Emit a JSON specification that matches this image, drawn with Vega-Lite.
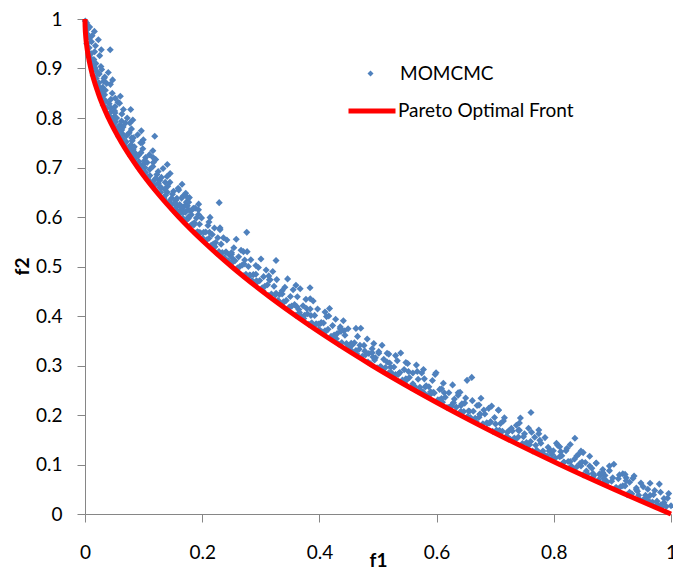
{
  "$schema": "https://vega.github.io/schema/vega-lite/v6.json",
  "width": 586,
  "height": 495,
  "autosize": {"type": "none"},
  "padding": {"left": 85, "top": 19, "right": 2, "bottom": 57},
  "title": {"text": "(a)", "font": "Lato", "fontSize": 20, "fontWeight": "normal", "color": "#000000", "offset": 17, "baseline": "alphabetic", "dx": -30},
  "datasets": {
    "momcmc": [
      {"f1":0.0005,"f2":0.996},{"f1":0.003,"f2":0.992},{"f1":0.0025,"f2":0.988},{"f1":0.008,"f2":0.984},{"f1":0.005,"f2":0.98},{"f1":0.016,"f2":0.975},{"f1":0.0035,"f2":0.97},{"f1":0.012,"f2":0.966},{"f1":0.0074,"f2":0.962},{"f1":0.0228,"f2":0.958},{"f1":0.0111,"f2":0.954},{"f1":0.0031,"f2":0.95},{"f1":0.0179,"f2":0.946},{"f1":0.007,"f2":0.942},{"f1":0.0278,"f2":0.938},{"f1":0.0164,"f2":0.934},{"f1":0.0103,"f2":0.93},{"f1":0.025,"f2":0.926},{"f1":0.0085,"f2":0.922},{"f1":0.0151,"f2":0.918},{"f1":0.0089,"f2":0.914},{"f1":0.0186,"f2":0.91},{"f1":0.0131,"f2":0.907},{"f1":0.0272,"f2":0.904},{"f1":0.0173,"f2":0.901},
      {"f1":0.0284,"f2":0.898},{"f1":0.019,"f2":0.895},{"f1":0.0397,"f2":0.892},{"f1":0.0243,"f2":0.889},{"f1":0.0138,"f2":0.886},{"f1":0.0337,"f2":0.883},{"f1":0.0192,"f2":0.88},{"f1":0.0471,"f2":0.877},{"f1":0.0319,"f2":0.874},{"f1":0.0238,"f2":0.871},{"f1":0.0434,"f2":0.868},{"f1":0.0214,"f2":0.865},{"f1":0.0302,"f2":0.862},{"f1":0.0219,"f2":0.859},{"f1":0.0347,"f2":0.856},{"f1":0.0276,"f2":0.853},{"f1":0.0465,"f2":0.85},{"f1":0.0334,"f2":0.847},{"f1":0.0603,"f2":0.844},{"f1":0.0293,"f2":0.841},{"f1":0.0442,"f2":0.838},{"f1":0.0352,"f2":0.835},{"f1":0.0562,"f2":0.832},{"f1":0.0412,"f2":0.829},{"f1":0.0311,"f2":0.826},{"f1":0.0513,"f2":0.823},{"f1":0.0372,"f2":0.82},{"f1":0.0655,"f2":0.817},{"f1":0.0506,"f2":0.814},{"f1":0.0429,"f2":0.811},{"f1":0.0629,"f2":0.808},{"f1":0.0412,"f2":0.805},{"f1":0.05,"f2":0.803},{"f1":0.0416,"f2":0.801},{"f1":0.054,"f2":0.8},
      {"f1":0.0468,"f2":0.798},{"f1":0.0816,"f2":0.796},{"f1":0.0624,"f2":0.794},{"f1":0.0523,"f2":0.792},{"f1":0.0766,"f2":0.79},{"f1":0.0489,"f2":0.788},{"f1":0.0598,"f2":0.786},{"f1":0.0492,"f2":0.784},{"f1":0.065,"f2":0.782},{"f1":0.0559,"f2":0.78},{"f1":0.0793,"f2":0.778},{"f1":0.0627,"f2":0.776},{"f1":0.0961,"f2":0.774},{"f1":0.057,"f2":0.772},{"f1":0.0754,"f2":0.77},{"f1":0.0638,"f2":0.768},{"f1":0.0898,"f2":0.766},{"f1":0.0707,"f2":0.764},{"f1":0.0576,"f2":0.762},{"f1":0.0826,"f2":0.76},{"f1":0.0646,"f2":0.758},{"f1":0.0995,"f2":0.756},{"f1":0.0805,"f2":0.754},{"f1":0.0705,"f2":0.752},{"f1":0.095,"f2":0.75},{"f1":0.0675,"f2":0.748},{"f1":0.0785,"f2":0.746},{"f1":0.068,"f2":0.744},{"f1":0.0841,"f2":0.742},{"f1":0.0751,"f2":0.74},{"f1":0.0986,"f2":0.738},{"f1":0.0822,"f2":0.736},{"f1":0.1158,"f2":0.734},{"f1":0.0768,"f2":0.732},{"f1":0.0954,"f2":0.73},{"f1":0.084,"f2":0.728},{"f1":0.1101,"f2":0.726},{"f1":0.0912,"f2":0.724},{"f1":0.0783,"f2":0.722},{"f1":0.1034,"f2":0.72},{"f1":0.0855,"f2":0.718},{"f1":0.1207,"f2":0.716},{"f1":0.1018,"f2":0.714},{"f1":0.0919,"f2":0.712},{"f1":0.1166,"f2":0.71},
      {"f1":0.1003,"f2":0.708},{"f1":0.1404,"f2":0.706},{"f1":0.0936,"f2":0.704},{"f1":0.1158,"f2":0.702},{"f1":0.102,"f2":0.7},{"f1":0.1332,"f2":0.698},{"f1":0.1104,"f2":0.696},{"f1":0.0948,"f2":0.694},{"f1":0.1249,"f2":0.692},{"f1":0.1033,"f2":0.69},{"f1":0.1453,"f2":0.688},{"f1":0.1226,"f2":0.686},{"f1":0.1107,"f2":0.684},{"f1":0.1401,"f2":0.682},{"f1":0.1072,"f2":0.68},{"f1":0.1205,"f2":0.678},{"f1":0.108,"f2":0.676},{"f1":0.1273,"f2":0.674},{"f1":0.1166,"f2":0.672},{"f1":0.1449,"f2":0.67},{"f1":0.1252,"f2":0.668},{"f1":0.1656,"f2":0.666},{"f1":0.1189,"f2":0.664},{"f1":0.1412,"f2":0.662},{"f1":0.1276,"f2":0.66},{"f1":0.159,"f2":0.658},{"f1":0.1363,"f2":0.656},{"f1":0.1209,"f2":0.654},{"f1":0.1511,"f2":0.652},{"f1":0.1297,"f2":0.65},{"f1":0.1719,"f2":0.648},{"f1":0.1493,"f2":0.646},{"f1":0.1375,"f2":0.644},{"f1":0.1672,"f2":0.642},{"f1":0.1344,"f2":0.64},{"f1":0.1478,"f2":0.638},{"f1":0.1355,"f2":0.636},{"f1":0.155,"f2":0.634},{"f1":0.1444,"f2":0.632},{"f1":0.1729,"f2":0.63},{"f1":0.1534,"f2":0.628},{"f1":0.1939,"f2":0.626},{"f1":0.1474,"f2":0.624},{"f1":0.1699,"f2":0.622},{"f1":0.1564,"f2":0.62},{"f1":0.1879,"f2":0.618},{"f1":0.1655,"f2":0.616},{"f1":0.1502,"f2":0.614},{"f1":0.1805,"f2":0.612},{"f1":0.1593,"f2":0.61},
      {"f1":0.1537,"f2":0.6284},{"f1":0.1552,"f2":0.6074},{"f1":0.1568,"f2":0.638},{"f1":0.1584,"f2":0.6102},{"f1":0.16,"f2":0.6544},{"f1":0.1616,"f2":0.6252},{"f1":0.1632,"f2":0.6082},{"f1":0.1648,"f2":0.6382},{"f1":0.1665,"f2":0.5974},{"f1":0.1681,"f2":0.609},{"f1":0.1697,"f2":0.5914},{"f1":0.1714,"f2":0.6098},{"f1":0.1731,"f2":0.5942},{"f1":0.1747,"f2":0.6228},{"f1":0.1764,"f2":0.597},{"f1":0.1781,"f2":0.6392},{"f1":0.1798,"f2":0.5828},{"f1":0.1815,"f2":0.6046},{"f1":0.1832,"f2":0.5856},{"f1":0.1849,"f2":0.6176},{"f1":0.1866,"f2":0.5884},{"f1":0.1884,"f2":0.5674},{"f1":0.1901,"f2":0.598},{"f1":0.1918,"f2":0.5702},{"f1":0.1936,"f2":0.6144},{"f1":0.1954,"f2":0.5852},{"f1":0.1971,"f2":0.5682},{"f1":0.1989,"f2":0.5982},{"f1":0.2007,"f2":0.5574},{"f1":0.2025,"f2":0.569},{"f1":0.2043,"f2":0.5514},{"f1":0.2061,"f2":0.5698},{"f1":0.2079,"f2":0.5542},{"f1":0.2098,"f2":0.5828},{"f1":0.2116,"f2":0.557},{"f1":0.2134,"f2":0.5992},{"f1":0.2153,"f2":0.5428},{"f1":0.2172,"f2":0.5646},{"f1":0.219,"f2":0.5456},{"f1":0.2209,"f2":0.5776},{"f1":0.2228,"f2":0.5484},{"f1":0.2247,"f2":0.5274},{"f1":0.2266,"f2":0.558},{"f1":0.2285,"f2":0.5302},{"f1":0.2304,"f2":0.5744},{"f1":0.2323,"f2":0.5452},{"f1":0.2343,"f2":0.5282},{"f1":0.2362,"f2":0.5582},{"f1":0.2381,"f2":0.5174},{"f1":0.2401,"f2":0.529},
      {"f1":0.2421,"f2":0.5535},{"f1":0.244,"f2":0.5116},{"f1":0.246,"f2":0.5236},{"f1":0.248,"f2":0.5055},{"f1":0.25,"f2":0.5245},{"f1":0.252,"f2":0.5085},{"f1":0.254,"f2":0.538},{"f1":0.256,"f2":0.5115},{"f1":0.2581,"f2":0.555},{"f1":0.2601,"f2":0.497},{"f1":0.2621,"f2":0.5195},{"f1":0.2642,"f2":0.5},{"f1":0.2663,"f2":0.533},{"f1":0.2683,"f2":0.503},{"f1":0.2704,"f2":0.4814},{"f1":0.2725,"f2":0.513},{"f1":0.2746,"f2":0.4844},{"f1":0.2767,"f2":0.53},{"f1":0.2788,"f2":0.5},{"f1":0.2809,"f2":0.4826},{"f1":0.283,"f2":0.5135},{"f1":0.2852,"f2":0.4716},{"f1":0.2873,"f2":0.4836},{"f1":0.2894,"f2":0.4655},{"f1":0.2916,"f2":0.4845},{"f1":0.2938,"f2":0.4685},{"f1":0.2959,"f2":0.498},{"f1":0.2981,"f2":0.4715},{"f1":0.3003,"f2":0.515},{"f1":0.3025,"f2":0.457},{"f1":0.3047,"f2":0.4795},{"f1":0.3069,"f2":0.46},{"f1":0.3091,"f2":0.493},{"f1":0.3114,"f2":0.463},{"f1":0.3136,"f2":0.4414},{"f1":0.3158,"f2":0.473},{"f1":0.3181,"f2":0.4444},{"f1":0.3204,"f2":0.49},{"f1":0.3226,"f2":0.46},{"f1":0.3249,"f2":0.4426},{"f1":0.3272,"f2":0.4735},{"f1":0.3295,"f2":0.4316},{"f1":0.3318,"f2":0.4436},{"f1":0.3341,"f2":0.4255},{"f1":0.3364,"f2":0.4445},{"f1":0.3387,"f2":0.4285},{"f1":0.3411,"f2":0.458},{"f1":0.3434,"f2":0.4315},{"f1":0.3457,"f2":0.475},{"f1":0.3481,"f2":0.417},{"f1":0.3505,"f2":0.4395},{"f1":0.3528,"f2":0.42},{"f1":0.3552,"f2":0.453},{"f1":0.3576,"f2":0.423},{"f1":0.36,"f2":0.4014},
      {"f1":0.3624,"f2":0.4388},{"f1":0.3648,"f2":0.413},{"f1":0.3672,"f2":0.4552},{"f1":0.3697,"f2":0.3988},{"f1":0.3721,"f2":0.4206},{"f1":0.3745,"f2":0.4016},{"f1":0.377,"f2":0.4336},{"f1":0.3795,"f2":0.4044},{"f1":0.3819,"f2":0.3834},{"f1":0.3844,"f2":0.414},{"f1":0.3869,"f2":0.3862},{"f1":0.3894,"f2":0.4304},{"f1":0.3919,"f2":0.4012},{"f1":0.3944,"f2":0.3842},{"f1":0.3969,"f2":0.4142},{"f1":0.3994,"f2":0.3734},{"f1":0.402,"f2":0.385},{"f1":0.4045,"f2":0.3674},{"f1":0.407,"f2":0.3858},{"f1":0.4096,"f2":0.3702},{"f1":0.4122,"f2":0.3988},{"f1":0.4147,"f2":0.373},{"f1":0.4173,"f2":0.4152},{"f1":0.4199,"f2":0.3588},{"f1":0.4225,"f2":0.3806},{"f1":0.4251,"f2":0.3616},{"f1":0.4277,"f2":0.3936},{"f1":0.4303,"f2":0.3644},{"f1":0.433,"f2":0.3434},{"f1":0.4356,"f2":0.374},{"f1":0.4382,"f2":0.3462},{"f1":0.4409,"f2":0.3904},{"f1":0.4436,"f2":0.3612},{"f1":0.4462,"f2":0.3442},{"f1":0.4489,"f2":0.3742},{"f1":0.4516,"f2":0.3334},{"f1":0.4543,"f2":0.345},{"f1":0.457,"f2":0.3274},{"f1":0.4597,"f2":0.3458},{"f1":0.4624,"f2":0.3302},{"f1":0.4651,"f2":0.3588},{"f1":0.4679,"f2":0.333},{"f1":0.4706,"f2":0.3752},{"f1":0.4733,"f2":0.3188},{"f1":0.4761,"f2":0.3406},{"f1":0.4789,"f2":0.3216},{"f1":0.4816,"f2":0.3536},{"f1":0.4844,"f2":0.3244},{"f1":0.4872,"f2":0.3034},{"f1":0.49,"f2":0.334},
      {"f1":0.366,"f2":0.407},{"f1":0.3782,"f2":0.415},{"f1":0.3906,"f2":0.38},{"f1":0.4032,"f2":0.387},{"f1":0.416,"f2":0.4},{"f1":0.429,"f2":0.354},{"f1":0.4422,"f2":0.37},{"f1":0.4556,"f2":0.341},{"f1":0.4692,"f2":0.341},{"f1":0.483,"f2":0.307},
      {"f1":0.4928,"f2":0.3442},{"f1":0.4956,"f2":0.3158},{"f1":0.4984,"f2":0.2953},{"f1":0.5013,"f2":0.325},{"f1":0.5041,"f2":0.2979},{"f1":0.5069,"f2":0.3408},{"f1":0.5098,"f2":0.3124},{"f1":0.5127,"f2":0.2959},{"f1":0.5155,"f2":0.3249},{"f1":0.5184,"f2":0.2853},{"f1":0.5213,"f2":0.2965},{"f1":0.5242,"f2":0.2793},{"f1":0.5271,"f2":0.2971},{"f1":0.53,"f2":0.2819},{"f1":0.5329,"f2":0.3096},{"f1":0.5358,"f2":0.2845},{"f1":0.5388,"f2":0.3254},{"f1":0.5417,"f2":0.2706},{"f1":0.5446,"f2":0.2917},{"f1":0.5476,"f2":0.2732},{"f1":0.5506,"f2":0.3042},{"f1":0.5535,"f2":0.2758},{"f1":0.5565,"f2":0.2553},{"f1":0.5595,"f2":0.285},{"f1":0.5625,"f2":0.2579},{"f1":0.5655,"f2":0.3008},{"f1":0.5685,"f2":0.2724},{"f1":0.5715,"f2":0.2559},{"f1":0.5746,"f2":0.2849},{"f1":0.5776,"f2":0.2453},{"f1":0.5806,"f2":0.2565},{"f1":0.5837,"f2":0.2393},{"f1":0.5868,"f2":0.2571},{"f1":0.5898,"f2":0.2419},{"f1":0.5929,"f2":0.2696},{"f1":0.596,"f2":0.2445},{"f1":0.5991,"f2":0.2854},{"f1":0.6022,"f2":0.2306},{"f1":0.6053,"f2":0.2517},{"f1":0.6084,"f2":0.2332},{"f1":0.6115,"f2":0.2642},{"f1":0.6147,"f2":0.2358},{"f1":0.6178,"f2":0.2153},{"f1":0.6209,"f2":0.245},{"f1":0.6241,"f2":0.2179},{"f1":0.6273,"f2":0.2608},{"f1":0.6304,"f2":0.2324},{"f1":0.6336,"f2":0.2159},{"f1":0.6368,"f2":0.2449},{"f1":0.64,"f2":0.2053},
      {"f1":0.4942,"f2":0.311},{"f1":0.5013,"f2":0.328},{"f1":0.5084,"f2":0.291},{"f1":0.5155,"f2":0.307},{"f1":0.5227,"f2":0.286},{"f1":0.53,"f2":0.32},{"f1":0.5373,"f2":0.286},{"f1":0.5446,"f2":0.264},{"f1":0.552,"f2":0.288},{"f1":0.5595,"f2":0.263},{"f1":0.567,"f2":0.288},{"f1":0.5746,"f2":0.248},{"f1":0.5822,"f2":0.259},{"f1":0.5898,"f2":0.247},{"f1":0.5975,"f2":0.282},{"f1":0.6053,"f2":0.23},{"f1":0.6131,"f2":0.245},{"f1":0.6209,"f2":0.215},{"f1":0.6288,"f2":0.225},{"f1":0.6368,"f2":0.24},
      {"f1":0.6432,"f2":0.2228},{"f1":0.6464,"f2":0.2072},{"f1":0.6496,"f2":0.2343},{"f1":0.6529,"f2":0.197},{"f1":0.6561,"f2":0.2074},{"f1":0.6593,"f2":0.1911},{"f1":0.6626,"f2":0.2077},{"f1":0.6659,"f2":0.1933},{"f1":0.6691,"f2":0.2192},{"f1":0.6724,"f2":0.1955},{"f1":0.6757,"f2":0.2338},{"f1":0.679,"f2":0.1822},{"f1":0.6823,"f2":0.2019},{"f1":0.6856,"f2":0.1844},{"f1":0.6889,"f2":0.2134},{"f1":0.6922,"f2":0.1866},{"f1":0.6956,"f2":0.1672},{"f1":0.6989,"f2":0.195},{"f1":0.7022,"f2":0.1694},{"f1":0.7056,"f2":0.2096},{"f1":0.709,"f2":0.1828},{"f1":0.7123,"f2":0.1672},{"f1":0.7157,"f2":0.1943},{"f1":0.7191,"f2":0.157},{"f1":0.7225,"f2":0.1674},{"f1":0.7259,"f2":0.1511},{"f1":0.7293,"f2":0.1677},{"f1":0.7327,"f2":0.1533},{"f1":0.7362,"f2":0.1792},{"f1":0.7396,"f2":0.1555},{"f1":0.743,"f2":0.1938},{"f1":0.7465,"f2":0.1422},{"f1":0.75,"f2":0.1619},{"f1":0.7534,"f2":0.1444},{"f1":0.7569,"f2":0.1734},{"f1":0.7604,"f2":0.1466},{"f1":0.7639,"f2":0.1272},{"f1":0.7674,"f2":0.155},{"f1":0.7709,"f2":0.1294},{"f1":0.7744,"f2":0.1696},{"f1":0.7779,"f2":0.1428},{"f1":0.7815,"f2":0.1272},{"f1":0.785,"f2":0.1543},{"f1":0.7885,"f2":0.117},{"f1":0.7921,"f2":0.1274},{"f1":0.7957,"f2":0.1111},{"f1":0.7992,"f2":0.1277},{"f1":0.8028,"f2":0.1133},{"f1":0.8064,"f2":0.1392},{"f1":0.81,"f2":0.1155},
      {"f1":0.6416,"f2":0.207},{"f1":0.648,"f2":0.224},{"f1":0.6545,"f2":0.208},{"f1":0.661,"f2":0.229},{"f1":0.6675,"f2":0.187},{"f1":0.674,"f2":0.202},{"f1":0.6806,"f2":0.21},{"f1":0.6872,"f2":0.183},{"f1":0.6939,"f2":0.218},{"f1":0.7006,"f2":0.182},{"f1":0.7073,"f2":0.161},{"f1":0.714,"f2":0.188},{"f1":0.7208,"f2":0.165},{"f1":0.7276,"f2":0.173},{"f1":0.7344,"f2":0.15},{"f1":0.7413,"f2":0.184},{"f1":0.7482,"f2":0.156},{"f1":0.7552,"f2":0.141},{"f1":0.7621,"f2":0.165},{"f1":0.7691,"f2":0.139},{"f1":0.7762,"f2":0.149},{"f1":0.7832,"f2":0.12},{"f1":0.7903,"f2":0.135},{"f1":0.7974,"f2":0.12},{"f1":0.8046,"f2":0.143},
      {"f1":0.8136,"f2":0.1176},{"f1":0.8172,"f2":0.1044},{"f1":0.8208,"f2":0.1276},{"f1":0.8245,"f2":0.106},{"f1":0.8281,"f2":0.1404},{"f1":0.8317,"f2":0.0936},{"f1":0.8354,"f2":0.1112},{"f1":0.8391,"f2":0.0952},{"f1":0.8427,"f2":0.1212},{"f1":0.8464,"f2":0.0968},{"f1":0.8501,"f2":0.0791},{"f1":0.8538,"f2":0.104},{"f1":0.8575,"f2":0.0807},{"f1":0.8612,"f2":0.1168},{"f1":0.8649,"f2":0.0924},{"f1":0.8686,"f2":0.0781},{"f1":0.8724,"f2":0.1024},{"f1":0.8761,"f2":0.0685},{"f1":0.8798,"f2":0.0777},{"f1":0.8836,"f2":0.0628},{"f1":0.8874,"f2":0.0776},{"f1":0.8911,"f2":0.0644},{"f1":0.8949,"f2":0.0876},{"f1":0.8987,"f2":0.066},{"f1":0.9025,"f2":0.1004},{"f1":0.9063,"f2":0.0536},{"f1":0.9101,"f2":0.0712},{"f1":0.9139,"f2":0.0552},{"f1":0.9178,"f2":0.0812},{"f1":0.9216,"f2":0.0568},{"f1":0.9254,"f2":0.0391},{"f1":0.9293,"f2":0.064},{"f1":0.9332,"f2":0.0407},{"f1":0.937,"f2":0.0768},{"f1":0.9409,"f2":0.0524},{"f1":0.9448,"f2":0.0381},{"f1":0.9487,"f2":0.0624},{"f1":0.9526,"f2":0.0285},{"f1":0.9565,"f2":0.0377},{"f1":0.9604,"f2":0.0228},{"f1":0.9643,"f2":0.0376},{"f1":0.9683,"f2":0.0244},{"f1":0.9722,"f2":0.0476},{"f1":0.9761,"f2":0.026},{"f1":0.9801,"f2":0.0604},{"f1":0.9841,"f2":0.0136},{"f1":0.988,"f2":0.0312},{"f1":0.992,"f2":0.0152},{"f1":0.996,"f2":0.0412},{"f1":1.0,"f2":0.0168},
      {"f1":0.8118,"f2":0.126},{"f1":0.8172,"f2":0.105},{"f1":0.8226,"f2":0.133},{"f1":0.8281,"f2":0.106},{"f1":0.8336,"f2":0.09},{"f1":0.8391,"f2":0.117},{"f1":0.8446,"f2":0.102},{"f1":0.8501,"f2":0.124},{"f1":0.8556,"f2":0.087},{"f1":0.8612,"f2":0.097},{"f1":0.8668,"f2":0.075},{"f1":0.8724,"f2":0.103},{"f1":0.878,"f2":0.081},{"f1":0.8836,"f2":0.09},{"f1":0.8892,"f2":0.067},{"f1":0.8949,"f2":0.097},{"f1":0.9006,"f2":0.073},{"f1":0.9063,"f2":0.053},{"f1":0.912,"f2":0.079},{"f1":0.9178,"f2":0.057},{"f1":0.9235,"f2":0.067},{"f1":0.9293,"f2":0.044},{"f1":0.9351,"f2":0.072},{"f1":0.9409,"f2":0.049},{"f1":0.9467,"f2":0.029},{"f1":0.9526,"f2":0.055},{"f1":0.9584,"f2":0.034},{"f1":0.9643,"f2":0.062},{"f1":0.9702,"f2":0.039},{"f1":0.9761,"f2":0.019},{"f1":0.9821,"f2":0.044},{"f1":0.988,"f2":0.023},{"f1":0.994,"f2":0.032},
      {"f1":0.1689,"f2":0.595},{"f1":0.1858,"f2":0.584},{"f1":0.2034,"f2":0.552},{"f1":0.2218,"f2":0.54},{"f1":0.2411,"f2":0.529},{"f1":0.2611,"f2":0.497},{"f1":0.282,"f2":0.482},{"f1":0.3036,"f2":0.451},{"f1":0.326,"f2":0.446},{"f1":0.3493,"f2":0.418},{"f1":0.3733,"f2":0.395},{"f1":0.3982,"f2":0.384},{"f1":0.4238,"f2":0.352},{"f1":0.4502,"f2":0.34},{"f1":0.4775,"f2":0.329},{"f1":0.5055,"f2":0.297},{"f1":0.5344,"f2":0.282},{"f1":0.564,"f2":0.251},{"f1":0.5944,"f2":0.246},{"f1":0.6257,"f2":0.218},{"f1":0.6577,"f2":0.195},{"f1":0.6906,"f2":0.184},{"f1":0.7242,"f2":0.152},{"f1":0.7586,"f2":0.14},{"f1":0.7939,"f2":0.129},{"f1":0.8299,"f2":0.097},{"f1":0.8668,"f2":0.082},{"f1":0.9044,"f2":0.051},{"f1":0.9428,"f2":0.046},{"f1":0.9821,"f2":0.018},
      {"f1":0.0221,"f2":0.89},{"f1":0.0369,"f2":0.87},{"f1":0.0275,"f2":0.85},{"f1":0.0589,"f2":0.83},{"f1":0.0511,"f2":0.81},{"f1":0.0691,"f2":0.79},{"f1":0.0609,"f2":0.77},{"f1":0.0975,"f2":0.75},{"f1":0.0849,"f2":0.73},{"f1":0.1061,"f2":0.71},{"f1":0.1001,"f2":0.69},{"f1":0.1369,"f2":0.67},{"f1":0.1405,"f2":0.65},{"f1":0.1769,"f2":0.63},{"f1":0.1611,"f2":0.61},
      {"f1":0.1764,"f2":0.615},{"f1":0.2116,"f2":0.59},{"f1":0.25,"f2":0.528},{"f1":0.2916,"f2":0.502},{"f1":0.3364,"f2":0.451},{"f1":0.3844,"f2":0.435},{"f1":0.4356,"f2":0.378},{"f1":0.49,"f2":0.326},{"f1":0.5476,"f2":0.306},{"f1":0.6084,"f2":0.253},{"f1":0.6724,"f2":0.22},{"f1":0.7396,"f2":0.169},{"f1":0.81,"f2":0.136},{"f1":0.8836,"f2":0.084},{"f1":0.9604,"f2":0.05},
      {"f1":0.1772,"f2":0.601},{"f1":0.1945,"f2":0.569},{"f1":0.2125,"f2":0.569},{"f1":0.2314,"f2":0.523},{"f1":0.251,"f2":0.517},{"f1":0.2714,"f2":0.505},{"f1":0.2927,"f2":0.471},{"f1":0.3147,"f2":0.473},{"f1":0.3376,"f2":0.426},{"f1":0.3612,"f2":0.419},{"f1":0.3856,"f2":0.401},{"f1":0.4109,"f2":0.369},{"f1":0.4369,"f2":0.369},{"f1":0.4638,"f2":0.323},{"f1":0.4914,"f2":0.317},{"f1":0.5198,"f2":0.305},{"f1":0.5491,"f2":0.271},{"f1":0.5791,"f2":0.273},{"f1":0.61,"f2":0.226},{"f1":0.6416,"f2":0.219},{"f1":0.674,"f2":0.201},{"f1":0.7073,"f2":0.169},{"f1":0.7413,"f2":0.169},{"f1":0.7762,"f2":0.123},{"f1":0.8118,"f2":0.117},{"f1":0.8482,"f2":0.105},{"f1":0.8855,"f2":0.071},{"f1":0.9235,"f2":0.073},{"f1":0.9624,"f2":0.026},
      {"f1":0.1936,"f2":0.605},{"f1":0.2304,"f2":0.578},{"f1":0.2704,"f2":0.53},{"f1":0.3136,"f2":0.481},{"f1":0.36,"f2":0.462},{"f1":0.4096,"f2":0.408},{"f1":0.4624,"f2":0.375},{"f1":0.5184,"f2":0.323},{"f1":0.5776,"f2":0.292},{"f1":0.64,"f2":0.246},{"f1":0.7056,"f2":0.21},{"f1":0.7744,"f2":0.162},{"f1":0.8464,"f2":0.127},{"f1":0.9216,"f2":0.08},
      {"f1":0.0324,"f2":0.88},{"f1":0.0256,"f2":0.86},{"f1":0.0516,"f2":0.84},{"f1":0.0444,"f2":0.82},{"f1":0.072,"f2":0.8},{"f1":0.0574,"f2":0.78},{"f1":0.0796,"f2":0.76},{"f1":0.0826,"f2":0.74},{"f1":0.1164,"f2":0.72},{"f1":0.095,"f2":0.7},{"f1":0.1304,"f2":0.68},{"f1":0.1296,"f2":0.66},{"f1":0.1746,"f2":0.64},{"f1":0.1644,"f2":0.62},
      {"f1":0.043,"f2":0.938},{"f1":0.078,"f2":0.817},{"f1":0.119,"f2":0.763},{"f1":0.229,"f2":0.629},{"f1":0.276,"f2":0.569},{"f1":0.326,"f2":0.512},{"f1":0.384,"f2":0.457},{"f1":0.66,"f2":0.276},{"f1":0.652,"f2":0.27},{"f1":0.761,"f2":0.205},{"f1":0.836,"f2":0.153}
    ],
    "front": [
      {"f1":0,"f2":1},{"f1":0.0001,"f2":0.99},{"f1":0.0004,"f2":0.98},{"f1":0.0009,"f2":0.97},{"f1":0.0025,"f2":0.95},{"f1":0.0049,"f2":0.93},{"f1":0.01,"f2":0.9},{"f1":0.0225,"f2":0.85},{"f1":0.04,"f2":0.8},{"f1":0.0625,"f2":0.75},{"f1":0.09,"f2":0.7},{"f1":0.1225,"f2":0.65},{"f1":0.16,"f2":0.6},{"f1":0.2025,"f2":0.55},{"f1":0.25,"f2":0.5},{"f1":0.3025,"f2":0.45},{"f1":0.36,"f2":0.4},{"f1":0.4225,"f2":0.35},{"f1":0.49,"f2":0.3},{"f1":0.5625,"f2":0.25},{"f1":0.64,"f2":0.2},{"f1":0.7225,"f2":0.15},{"f1":0.81,"f2":0.1},{"f1":0.9025,"f2":0.05},{"f1":1,"f2":0}
    ]
  },
  "layer": [
    {
      "mark": {"type": "rule", "color": "#868686", "strokeWidth": 1},
      "encoding": {"y": {"datum": 1, "type": "quantitative"}}
    },
    {
      "data": {"name": "momcmc"},
      "mark": {"type": "point", "shape": "diamond", "filled": true, "color": "#4F81BD", "opacity": 1, "size": 50},
      "encoding": {
        "x": {"field": "f1", "type": "quantitative", "scale": {"domain": [0, 1], "nice": false, "zero": false},
              "axis": {"title": "f1", "values": [0, 0.2, 0.4, 0.6, 0.8, 1], "format": "~g"}},
        "y": {"field": "f2", "type": "quantitative", "scale": {"domain": [0, 1], "nice": false, "zero": false},
              "axis": {"title": "f2", "values": [0, 0.1, 0.2, 0.3, 0.4, 0.5, 0.6, 0.7, 0.8, 0.9, 1], "format": "~g"}},
        "shape": {"datum": "MOMCMC", "scale": {"range": ["diamond"]},
                  "legend": {"title": null, "orient": "none", "legendX": 276, "legendY": 45, "padding": 0,
                             "symbolSize": 36, "symbolFillColor": "#4F81BD", "symbolStrokeColor": "#4F81BD", "symbolStrokeWidth": 0,
                             "labelOffset": 20, "labelFontSize": 19, "labelFont": "Lato", "labelColor": "#000000", "labelLimit": 0}}
      }
    },
    {
      "data": {"name": "front"},
      "mark": {"type": "line", "strokeWidth": 5, "interpolate": "monotone"},
      "encoding": {
        "x": {"field": "f1", "type": "quantitative"},
        "y": {"field": "f2", "type": "quantitative"},
        "color": {"datum": "Pareto Optimal Front", "scale": {"range": ["#FF0000"]},
                  "legend": {"title": null, "orient": "none", "legendX": 261, "legendY": 66, "padding": 0,
                             "symbolType": "stroke", "symbolSize": 2209, "symbolStrokeWidth": 5,
                             "labelOffset": 0, "labelFontSize": 19, "labelFont": "Lato", "labelColor": "#000000", "labelLimit": 0}}
      }
    }
  ],
  "config": {
    "view": {"stroke": null},
    "font": "Lato",
    "axis": {
      "grid": false,
      "domainColor": "#868686",
      "tickColor": "#868686",
      "tickSize": 8,
      "labelFont": "Lato",
      "labelFontSize": 19,
      "labelColor": "#000000",
      "labelOverlap": false,
      "labelBound": false,
      "labelFlush": false,
      "titleFont": "Lato",
      "titleFontSize": 19,
      "titleFontWeight": "bold",
      "titleColor": "#000000"
    },
    "axisX": {"labelPadding": 21, "titleY": 37, "titleBaseline": "top"},
    "axisY": {"labelPadding": 15, "titleX": -63, "titleY": 247, "titleBaseline": "middle", "titleAngle": -90}
  }
}
